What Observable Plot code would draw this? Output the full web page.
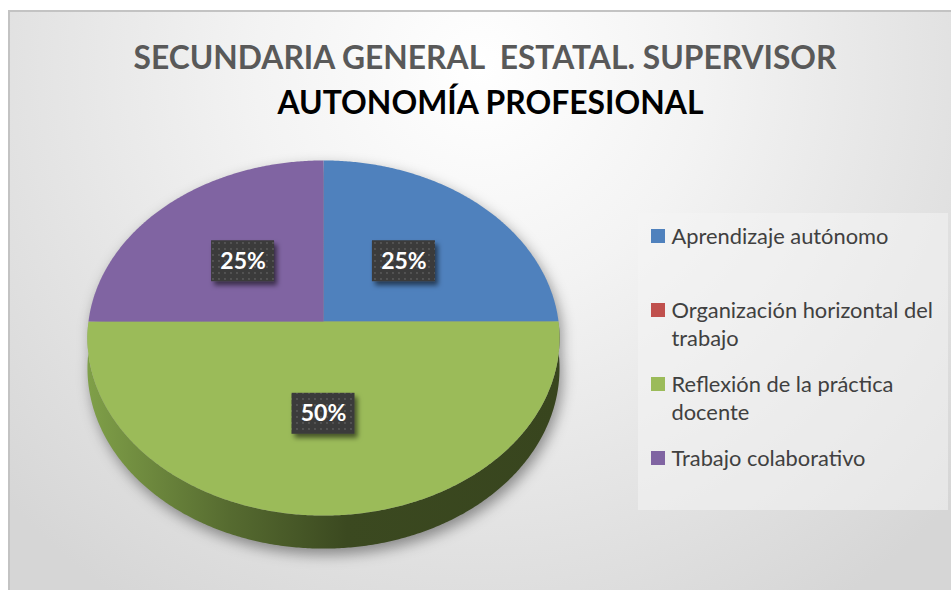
<!DOCTYPE html>
<html><head><meta charset="utf-8">
<script src="https://cdn.jsdelivr.net/npm/d3@7"></script>
<script src="https://cdn.jsdelivr.net/npm/@observablehq/plot@0.6"></script>
<style>body{margin:0;background:#fff;overflow:hidden}</style>
</head><body><div id="chart"></div>
<script>
// ---- data ----
const titleLine1 = "SECUNDARIA GENERAL  ESTATAL. SUPERVISOR";
const titleLine2 = "AUTONOMÍA PROFESIONAL";
const categories = ["Aprendizaje autónomo", "Organización horizontal del trabajo", "Reflexión de la práctica docente", "Trabajo colaborativo"];
const values = [25, 0, 50, 25];
const colors = ["#4f81bd", "#c0504d", "#9bbb59", "#8064a2"];
const sideColors = [["#6f96c8", "#2e4f78"], ["#c9706d", "#7a2f2c"], ["#7f9f48", "#3b4920"], ["#9a80bb", "#4d3a66"]];

// ---- geometry ----
const W = 951, H = 590;
const cx = 323, cy = 321, A = 176, B = 235, K = 0.093, D = 30;
function proj(theta, r, h) {
  const u = r * Math.sin(theta), v = r * Math.cos(theta);
  const s = 1 / (1 + K * v);
  return {x: cx + B * u * s, y: cy - A * v * s + h * D * s};
}
const total = d3.sum(values);
const TAU = Math.PI * 2, step = Math.PI / 360;
const slicePts = [], sidePts = [], labels = [];
let acc = 0;
values.forEach((v, i) => {
  const a0 = acc / total * TAU, a1 = (acc + v) / total * TAU;
  acc += v;
  if (v <= 0) return;
  const c = proj(0, 0, 0);
  slicePts.push({key: i, x: c.x, y: c.y, fill: colors[i]});
  for (let t = a0; t < a1; t += step) slicePts.push({key: i, ...proj(t, 1, 0), fill: colors[i]});
  slicePts.push({key: i, ...proj(a1, 1, 0), fill: colors[i]});
  const s0 = Math.max(a0, Math.PI / 2), s1 = Math.min(a1, 3 * Math.PI / 2);
  if (s1 > s0) {
    const top = [], bot = [];
    for (let t = s0; t < s1; t += step) { top.push(proj(t, 1, 0)); bot.push(proj(t, 1, 1)); }
    top.push(proj(s1, 1, 0)); bot.push(proj(s1, 1, 1));
    [...top, ...bot.reverse()].forEach(p => sidePts.push({key: i, ...p, fill: `url(#side${i})`}));
  }
  const m = proj((a0 + a1) / 2, 0.5, 0);
  labels.push({x: m.x, y: m.y, text: Math.round(v / total * 100) + "%"});
});
const shadowPts = [];
for (let t = -Math.PI / 2; t <= Math.PI / 2; t += step) shadowPts.push(proj(t, 1, 0));
for (let t = Math.PI / 2; t <= 3 * Math.PI / 2; t += step) shadowPts.push(proj(t, 1, 1));

// ---- legend layout ----
const canvas = document.createElement("canvas").getContext("2d");
canvas.font = "20px Lato";
const legFont = Math.max(17, Math.min(22, 20 * 217 / canvas.measureText(categories[0]).width));
canvas.font = `${legFont}px Lato`;
function wrap(str, maxW) {
  const words = str.split(" "), lines = [];
  let cur = "";
  for (const w of words) {
    const t = cur ? cur + " " + w : w;
    if (canvas.measureText(t).width > maxW && cur) { lines.push(cur); cur = w; } else cur = t;
  }
  lines.push(cur);
  return lines;
}
const legX = 651, legY0 = 236, legStep = 74, legLine = 28;
const swatches = categories.map((c, i) => ({x: legX + 7, y: legY0 + i * legStep, fill: colors[i]}));
const legLines = [];
categories.forEach((c, i) => wrap(c, 274).forEach((l, j) => legLines.push({x: legX + 20, y: legY0 + i * legStep + j * legLine, text: l})));

const plot = Plot.plot({
  width: W, height: H, margin: 0,
  x: {domain: [0, W], axis: null},
  y: {domain: [H, 0], axis: null},
  color: {type: "identity"},
  marks: [
    Plot.rect([0], {x1: 9, x2: W + 10, y1: 11, y2: H + 10, fill: "url(#bg)", stroke: "#c3c3c3", strokeWidth: 2}),
    Plot.text([titleLine1], {x: 484.5, y: 68 - 0.32 * 33, text: d => d, fontFamily: "Lato", fontWeight: "bold", fontSize: 33, fill: "#595959"}),
    Plot.text([titleLine2], {x: 490, y: 113 - 0.32 * 33, text: d => d, fontFamily: "Lato", fontWeight: "bold", fontSize: 33, fill: "#000000"}),
    Plot.line(shadowPts, {x: "x", y: "y", dx: 3, dy: 6, fill: "#000", fillOpacity: 0.4, stroke: null}),
    Plot.line(sidePts, {x: "x", y: "y", z: "key", fill: "fill", stroke: null}),
    Plot.line(slicePts, {x: "x", y: "y", z: "key", fill: "fill", stroke: null}),
    Plot.rect(labels, {x1: d => d.x - 31.5, x2: d => d.x + 31.5, y1: d => d.y - 20.5, y2: d => d.y + 20.5, fill: "url(#dots)"}),
    Plot.text(labels, {x: "x", y: "y", text: "text", fill: "#ffffff", fontFamily: "Lato", fontWeight: "bold", fontSize: 23}),
    Plot.rect([0], {x1: 638, x2: 948, y1: 213, y2: 510, fill: "#f4f4f4", fillOpacity: 0.55}),
    Plot.rect(swatches, {x1: d => d.x - 7, x2: d => d.x + 7, y1: d => d.y - 7, y2: d => d.y + 7, fill: "fill"}),
    Plot.text(legLines, {x: "x", y: "y", text: "text", textAnchor: "start", fill: "#404040", fontFamily: "Lato", fontSize: legFont})
  ]
});

const svg = d3.select(plot);
const gs = svg.selectChildren("g").nodes();
const defs = svg.insert("defs", ":first-child");
const bg = defs.append("radialGradient").attr("id", "bg").attr("gradientUnits", "userSpaceOnUse")
  .attr("cx", 480).attr("cy", 70).attr("r", 640);
bg.append("stop").attr("offset", 0).attr("stop-color", "#ffffff");
bg.append("stop").attr("offset", 0.35).attr("stop-color", "#f3f3f3");
bg.append("stop").attr("offset", 1).attr("stop-color", "#d6d6d6");
sideColors.forEach((sc, i) => {
  const g = defs.append("linearGradient").attr("id", "side" + i).attr("gradientUnits", "userSpaceOnUse")
    .attr("x1", cx - B).attr("x2", cx + B).attr("y1", 0).attr("y2", 0);
  g.append("stop").attr("offset", 0).attr("stop-color", sc[0]);
  g.append("stop").attr("offset", 0.3).attr("stop-color", d3.interpolateRgb(sc[0], sc[1])(0.6));
  g.append("stop").attr("offset", 0.55).attr("stop-color", sc[1]);
  g.append("stop").attr("offset", 1).attr("stop-color", d3.interpolateRgb(sc[1], "#000")(0.05));
});
const pat = defs.append("pattern").attr("id", "dots").attr("patternUnits", "userSpaceOnUse").attr("width", 6).attr("height", 6);
pat.append("rect").attr("width", 6).attr("height", 6).attr("fill", "#3a3a3a");
pat.append("circle").attr("cx", 3).attr("cy", 3).attr("r", 0.9).attr("fill", "#5c5c5c");
const f1 = defs.append("filter").attr("id", "blur").attr("x", "-20%").attr("y", "-20%").attr("width", "140%").attr("height", "140%");
f1.append("feGaussianBlur").attr("stdDeviation", 7);
const f2 = defs.append("filter").attr("id", "drop").attr("x", "-30%").attr("y", "-30%").attr("width", "160%").attr("height", "160%");
f2.append("feDropShadow").attr("dx", 3).attr("dy", 4).attr("stdDeviation", 2.5).attr("flood-color", "#000").attr("flood-opacity", 0.55);
// gs order: bg, title1, title2, shadow, side, slices, labelbox, labeltext, legendbox, swatches, legendtext
d3.select(gs[3]).attr("filter", "url(#blur)");
d3.select(gs[6]).selectAll("rect").attr("filter", "url(#drop)");
d3.select(gs[1]).selectAll("text").style("white-space", "pre").attr("textLength", 703).attr("lengthAdjust", "spacingAndGlyphs");
d3.select(gs[2]).selectAll("text").attr("textLength", 426).attr("lengthAdjust", "spacingAndGlyphs");
document.getElementById("chart").appendChild(plot);
</script>
</body></html>
